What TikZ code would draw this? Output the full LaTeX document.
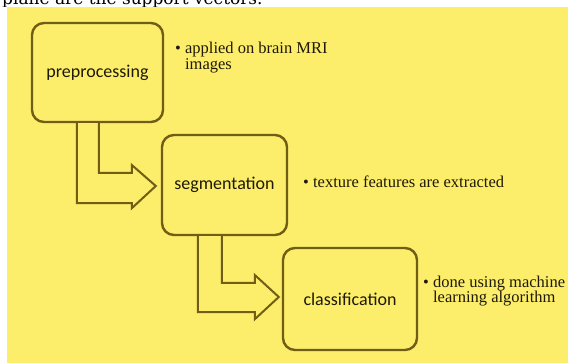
\documentclass[tikz,border=0pt]{standalone}
\usepackage{fontspec}
\setmainfont{Liberation Serif}
\newfontfamily\boxfont{Carlito}
\newfontfamily\capfont{DejaVu Serif}
\usetikzlibrary{calc}
\definecolor{paper}{RGB}{252,238,106}
\definecolor{olive}{RGB}{112,94,22}
\definecolor{ink}{RGB}{30,25,8}
\tikzset{
  stage/.style={draw=olive, line width=2.4pt, rounded corners=12pt, fill=paper,
    text=ink, font=\boxfont\fontsize{18}{18}\selectfont, inner sep=0pt},
  flow/.style={draw=olive, line width=2pt, fill=paper, line join=miter},
  note/.style={anchor=base west, text=ink, font=\fontsize{16.5}{17}\selectfont,
    align=left, inner sep=0pt},
}
\begin{document}
\begin{tikzpicture}[x=1pt,y=-1pt]
  \useasboundingbox (0,0) rectangle (568,363);
  % caption line above the panel, cut at the top edge
  \begin{scope}
    \clip (0,0) rectangle (568,7);
    \node[anchor=base west, inner sep=0pt, font=\capfont\fontsize{17}{17}\selectfont]
      (cap) at (2,5) {plane are the support vectors.};
  \end{scope}
  % yellow panel
  \fill[paper] (7,7) rectangle (568,363);

  % stages
  \node[stage, minimum width=131pt, minimum height=99pt] (pre) at (97.5,72.5) {preprocessing};
  \node[stage, minimum width=125pt, minimum height=100pt] (seg) at (224.5,185) {segmentation};
  \node[stage, minimum width=134pt, minimum height=102pt] (cls) at (350,299) {classification};

  % bent block arrows between stages
  \draw[flow] ($(pre.south west)+(46,0)$) -- ++(0,80) -- ++(55,0) -- ++(0,5)
     -- ($(seg.west)+(-5,1)$) -- ($(seg.west)+(-29,-20)$) -- ++(0,8) -- ++(-33,0)
     -- ($(pre.south west)+(68,0)$);
  \draw[flow] ($(seg.south west)+(37,0)$) -- ++(0,76) -- ++(57,0) -- ++(0,7)
     -- ($(cls.west)+(-3,-2)$) -- ($(cls.west)+(-27,-24)$) -- ++(0,8) -- ++(-33,0)
     -- ($(seg.south west)+(61,0)$);

  % notes beside the stages
  \node[note] (n1) at (175,70) {\textbullet\ applied on brain MRI\\[-1pt]\hphantom{\textbullet\ }images};
  \node[note] (n2) at (303,188) {\textbullet\ texture features are extracted};
  \node[note] (n3) at (423,303) {\textbullet\ done using machine\\[-2pt]\hphantom{\textbullet\ }learning algorithm};
\end{tikzpicture}
\end{document}
